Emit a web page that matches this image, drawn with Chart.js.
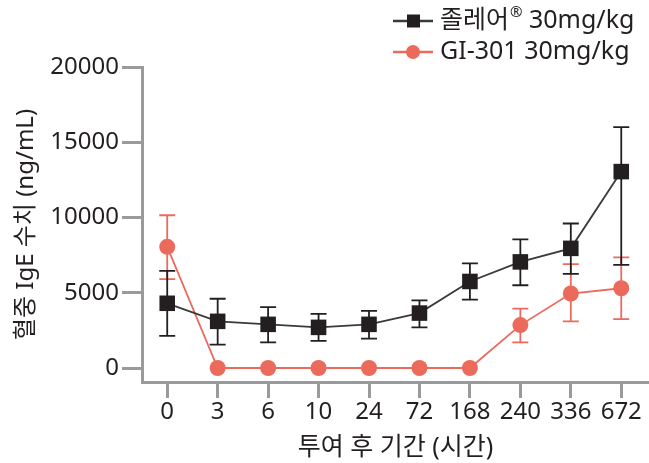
<!DOCTYPE html>
<html>
<head>
<meta charset="utf-8">
<script src="https://cdn.jsdelivr.net/npm/chart.js@4/dist/chart.umd.min.js"></script>
<style>
  html, body { margin: 0; padding: 0; background: #ffffff; }
  #wrap { width: 649px; height: 463px; position: relative; }
</style>
</head>
<body>
<div id="wrap"><canvas id="c" width="649" height="463"></canvas></div>
<script>
// ---- data ----
const categories = ['0', '3', '6', '10', '24', '72', '168', '240', '336', '672'];
const yTickValues = [0, 5000, 10000, 15000, 20000];

const zolairName = '졸레어';
const zolairDose = ' 30mg/kg';
const zolairLabel = '졸레어® 30mg/kg';
const zolairMean  = [4300, 3100, 2900, 2700, 2900, 3650, 5750, 7050, 7950, 13050];
const zolairUpper = [6450, 4600, 4050, 3600, 3800, 4500, 6950, 8550, 9600, 16000];
const zolairLower = [2130, 1550, 1700, 1800, 1950, 2700, 4550, 5500, 6250, 6850];

const giLabel = 'GI-301 30mg/kg';
const giMean  = [8050, 0, 0, 0, 0, 0, 0, 2850, 4950, 5300];
const giUpper = [10150, null, null, null, null, null, null, 3950, 6900, 7350];
const giLower = [5900, null, null, null, null, null, null, 1700, 3100, 3250];

const BLACK = '#231f20';
const BLACK_LINE = '#3a3a3a';
const RED = '#ec6a5c';
const AXIS = '#999a9c';
const FONT = "'Noto Sans', 'Noto Sans CJK KR', sans-serif";

const toPoints = arr => arr.map((v, i) => ({ x: i, y: v }));

const errorBars = {
  id: 'errorBars',
  beforeDatasetsDraw(chart) {
    const ctx = chart.ctx;
    const xs = chart.scales.x, ys = chart.scales.y;
    const sets = [
      { up: giUpper, lo: giLower, color: RED },
      { up: zolairUpper, lo: zolairLower, color: BLACK }
    ];
    ctx.save();
    sets.forEach(s => {
      ctx.strokeStyle = s.color;
      ctx.lineWidth = 1.8;
      s.up.forEach((u, i) => {
        const l = s.lo[i];
        if (u == null || l == null) return;
        const x = xs.getPixelForValue(i);
        const yu = ys.getPixelForValue(u), yl = ys.getPixelForValue(l);
        ctx.beginPath();
        ctx.moveTo(x, yu); ctx.lineTo(x, yl);
        ctx.moveTo(x - 8, yu); ctx.lineTo(x + 8, yu);
        ctx.moveTo(x - 8, yl); ctx.lineTo(x + 8, yl);
        ctx.stroke();
      });
    });
    ctx.restore();
  }
};

const customLegend = {
  id: 'customLegend',
  afterDraw(chart) {
    const ctx = chart.ctx;
    const items = [
      { parts: [zolairName, '®', zolairDose], line: BLACK_LINE, fill: BLACK, shape: 'rect', y: 21 },
      { parts: [giLabel], line: RED, fill: RED, shape: 'circle', y: 52 }
    ];
    ctx.save();
    items.forEach(it => {
      ctx.strokeStyle = it.line;
      ctx.lineWidth = 2.5;
      ctx.beginPath();
      ctx.moveTo(393, it.y); ctx.lineTo(433, it.y);
      ctx.stroke();
      ctx.fillStyle = it.fill;
      ctx.beginPath();
      if (it.shape === 'rect') ctx.rect(407, it.y - 6.5, 13, 13);
      else ctx.arc(413, it.y, 7, 0, Math.PI * 2);
      ctx.fill();
      ctx.fillStyle = '#231f20';
      ctx.textBaseline = 'middle';
      ctx.textAlign = 'left';
      let x = 440;
      it.parts.forEach(p => {
        if (p === '®') {
          ctx.font = '15px ' + FONT;
          ctx.fillText(p, x + 1, it.y - 8);
          x += ctx.measureText(p).width + 1;
        } else {
          ctx.font = '25px ' + FONT;
          ctx.fillText(p, x, it.y);
          x += ctx.measureText(p).width;
        }
      });
    });
    ctx.restore();
  }
};

new Chart(document.getElementById('c'), {
  type: 'line',
  data: {
    datasets: [
      {
        label: zolairLabel,
        data: toPoints(zolairMean),
        borderColor: BLACK_LINE,
        borderWidth: 1.8,
        backgroundColor: BLACK,
        pointStyle: 'rect',
        pointRadius: 11,
        pointBorderWidth: 0,
        pointBackgroundColor: BLACK,
        tension: 0
      },
      {
        label: giLabel,
        data: toPoints(giMean),
        borderColor: RED,
        borderWidth: 1.8,
        backgroundColor: RED,
        pointStyle: 'circle',
        pointRadius: 8,
        pointBorderWidth: 0,
        pointBackgroundColor: RED,
        tension: 0
      }
    ]
  },
  options: {
    responsive: false,
    animation: false,
    devicePixelRatio: 1,
    layout: { autoPadding: false, padding: { top: 67, left: 0, right: 0, bottom: 0 } },
    plugins: {
      legend: { display: false },
      tooltip: { enabled: false }
    },
    scales: {
      x: {
        type: 'linear',
        min: -0.5,
        max: 9.55,
        afterBuildTicks(scale) { scale.ticks = categories.map((c, i) => ({ value: i })); },
        afterFit(scale) { scale.height = 81; scale.paddingLeft = 0; scale.paddingRight = 0; },
        ticks: {
          callback: (v) => categories[v],
          font: { family: FONT, size: 24 },
          color: '#231f20',
          padding: 0,
          maxRotation: 0,
          autoSkip: false
        },
        grid: {
          drawOnChartArea: false,
          drawTicks: true,
          tickLength: 16,
          tickWidth: 3,
          tickColor: AXIS
        },
        border: { display: true, color: AXIS, width: 3 },
        title: {
          display: true,
          text: '투여 후 기간 (시간)',
          font: { family: FONT, size: 25 },
          color: '#231f20',
          padding: { top: 0, bottom: 0 }
        }
      },
      y: {
        type: 'linear',
        min: -930,
        max: 20000,
        afterBuildTicks(scale) { scale.ticks = yTickValues.map(v => ({ value: v })); },
        afterFit(scale) { scale.width = 142; },
        ticks: {
          callback: (v) => String(v),
          font: { family: FONT, size: 24 },
          color: '#231f20',
          padding: 3
        },
        grid: {
          drawOnChartArea: false,
          drawTicks: true,
          tickLength: 20,
          tickWidth: 3,
          tickColor: AXIS
        },
        border: { display: true, color: AXIS, width: 3 },
        title: {
          display: true,
          text: '혈중 IgE 수치 (ng/mL)',
          font: { family: FONT, size: 24 },
          color: '#231f20',
          padding: { top: 12, bottom: 0 }
        }
      }
    }
  },
  plugins: [errorBars, customLegend]
});
</script>
</body>
</html>
